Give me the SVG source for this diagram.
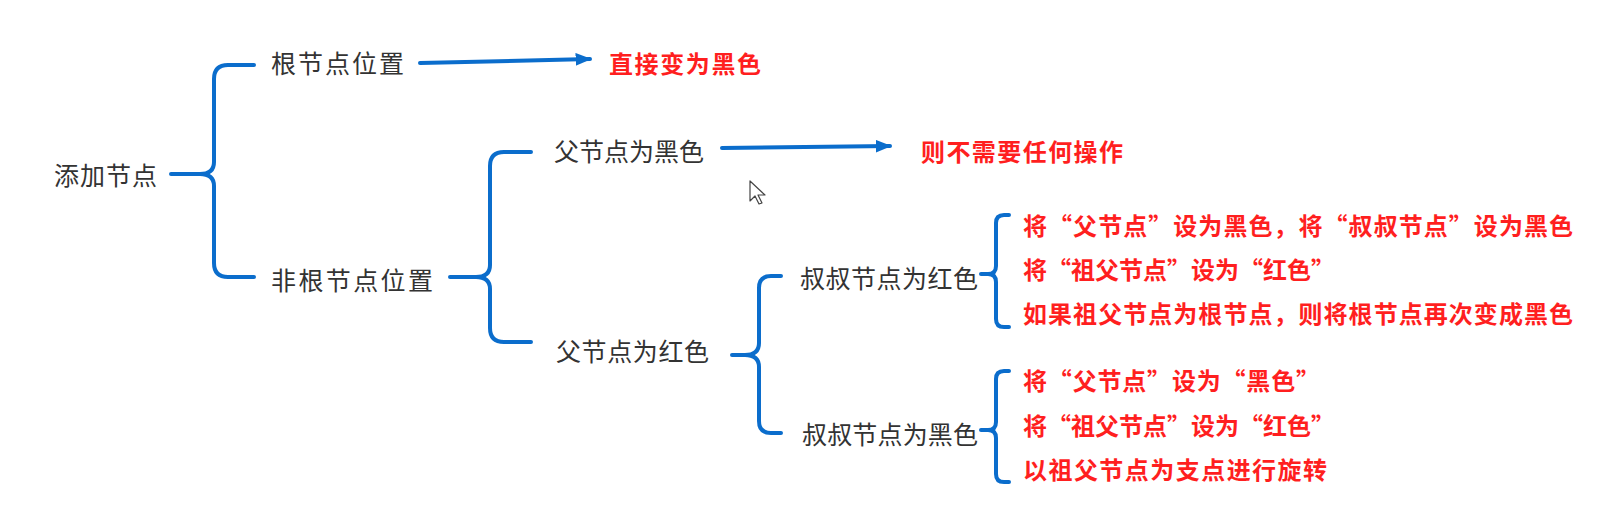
<svg xmlns="http://www.w3.org/2000/svg" width="1623" height="516" viewBox="0 0 1623 516">
<style>
.t{font-family:"Noto Sans CJK SC","Noto Sans",sans-serif;font-size:25px;fill:#333;dominant-baseline:central}
.r{font-family:"Noto Sans CJK SC","Noto Sans",sans-serif;font-size:24px;font-weight:700;fill:#ff1f1f;dominant-baseline:central}
.b{fill:none;stroke:#0b6dcc;stroke-width:4;stroke-linecap:round;stroke-linejoin:round}
</style>
<defs>
<marker id="ah" markerWidth="4" markerHeight="3.2" refX="3.6" refY="1.6" orient="auto" markerUnits="strokeWidth">
<path d="M0,0 L4,1.6 L0,3.2 z" fill="#0b6dcc"/>
</marker>
</defs>
<rect width="1623" height="516" fill="#fff"/>
<g id="connectors">
<path class="b" d="M254,65 L228,65 Q214,65 214,79 L214,162 Q214,174 200,174 L171,174 M200,174 Q214,174 214,186 L214,263 Q214,277 228,277 L254,277"/>
<path class="b" d="M531,152 L504,152 Q490,152 490,166 L490,265 Q490,277 476,277 L450,277 M476,277 Q490,277 490,289 L490,328 Q490,342 504,342 L531,342"/>
<path class="b" d="M781,276 L771,276 Q759,276 759,288 L759,343 Q759,355 745,355 L732,355 M745,355 Q759,355 759,367 L759,421 Q759,433 771,433 L781,433"/>
<path class="b" d="M1009,215 L1004,215 Q996,215 996,223 L996,266 Q996,274 988,274 L981,274 M988,274 Q996,274 996,282 L996,319 Q996,327 1004,327 L1009,327"/>
<path class="b" d="M1009,371 L1004,371 Q996,371 996,379 L996,422 Q996,430 988,430 L981,430 M988,430 Q996,430 996,438 L996,474 Q996,482 1004,482 L1009,482"/>
<path class="b" d="M420,63 L590,59" marker-end="url(#ah)"/>
<path class="b" d="M722,148 L890,146" marker-end="url(#ah)"/>
</g>
<g id="n-add"><text class="t" x="54" y="174" textLength="103">添加节点</text></g>
<g id="n-root"><text class="t" x="271" y="62" textLength="133">根节点位置</text></g>
<g id="n-root-res"><text class="r" x="609" y="62" font-size="25" textLength="152">直接变为黑色</text></g>
<g id="n-nonroot"><text class="t" x="271" y="279" textLength="162">非根节点位置</text></g>
<g id="n-pblack"><text class="t" x="554" y="150" textLength="150">父节点为黑色</text></g>
<g id="n-pblack-res"><text class="r" x="921" y="150" font-size="25" textLength="202">则不需要任何操作</text></g>
<g id="n-pred"><text class="t" x="556" y="350" textLength="153">父节点为红色</text></g>
<g id="n-ured"><text class="t" x="800" y="277" textLength="178">叔叔节点为红色</text></g>
<g id="n-ublack"><text class="t" x="802" y="433" textLength="176">叔叔节点为黑色</text></g>
<g id="n-ured-res">
<text class="r" x="1023" y="224" textLength="550">将“父节点”设为黑色，将“叔叔节点”设为黑色</text>
<text class="r" x="1023" y="268" textLength="312">将“祖父节点”设为“红色”</text>
<text class="r" x="1023" y="312" textLength="550">如果祖父节点为根节点，则将根节点再次变成黑色</text>
</g>
<g id="n-ublack-res">
<text class="r" x="1023" y="379" textLength="297">将“父节点”设为“黑色”</text>
<text class="r" x="1023" y="424" textLength="312">将“祖父节点”设为“红色”</text>
<text class="r" x="1023" y="468" textLength="304">以祖父节点为支点进行旋转</text>
</g>
<g id="cursor">
<path d="M750,181 L750,201 L755,196 L759,204 L762,203 L758,195 L765,195 z" fill="#fff" stroke="#444" stroke-width="1.2" stroke-linejoin="round"/>
</g>
</svg>
